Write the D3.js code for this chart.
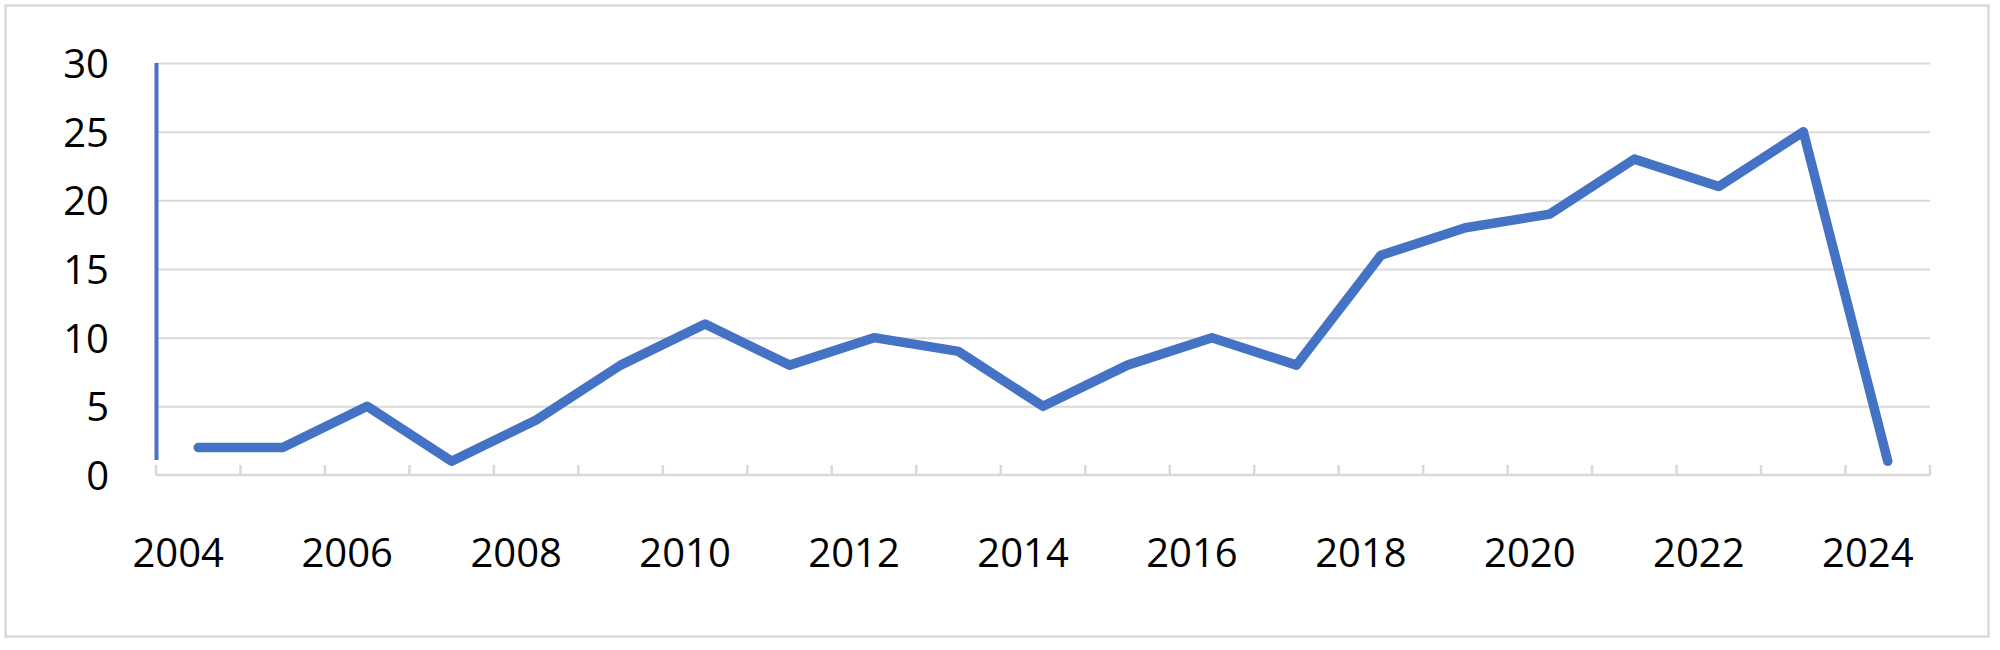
<!DOCTYPE html>
<html>
<head>
<meta charset="utf-8">
<script src="https://cdn.jsdelivr.net/npm/d3@7"></script>
<style>
  body { margin: 0; background: #fff; }
  svg text { font-family: "Open Sans", "Liberation Sans", sans-serif; fill: #000; }
</style>
</head>
<body>
<div id="chart"></div>
<script>
var years = d3.range(2004, 2025);
var counts = [2, 2, 5, 1, 4, 8, 11, 8, 10, 9, 5, 8, 10, 8, 16, 18, 19, 23, 21, 25, 1];
var yTicks = [0, 5, 10, 15, 20, 25, 30];
var xLabels = [2004, 2006, 2008, 2010, 2012, 2014, 2016, 2018, 2020, 2022, 2024];

var width = 2000, height = 650;
var margin = { top: 63, right: 70, bottom: 175, left: 156 };
var innerW = width - margin.left - margin.right;
var innerH = height - margin.top - margin.bottom;

var svg = d3.select("#chart").append("svg")
    .attr("width", width)
    .attr("height", height);

// outer frame
svg.append("rect")
    .attr("x", 5.5)
    .attr("y", 5.5)
    .attr("width", 1983)
    .attr("height", 631)
    .attr("fill", "none")
    .attr("stroke", "#d9d9d9")
    .attr("stroke-width", 2.5);

var g = svg.append("g")
    .attr("transform", "translate(" + margin.left + "," + margin.top + ")");

var x = d3.scaleBand()
    .domain(years)
    .range([0, innerW])
    .padding(0);

var y = d3.scaleLinear()
    .domain([0, 30])
    .range([innerH, 0]);

// gridlines
var grid = g.append("g")
    .call(d3.axisRight(y).tickValues(yTicks.slice(1)).tickSize(innerW).tickFormat(""));
grid.select(".domain").remove();
grid.selectAll("line")
    .attr("stroke", "#d9d9d9")
    .attr("stroke-width", 2);

// y labels
var yAxis = g.append("g")
    .call(d3.axisLeft(y).tickValues(yTicks).tickSize(0).tickPadding(47));
yAxis.select(".domain").remove();
yAxis.selectAll("text")
    .style("font-size", "40px")
    .attr("dy", "0.36em");

// x axis line and tick marks between categories
var bounds = years.map(function(d) { return x(d); }).concat([innerW]);
g.append("line")
    .attr("x1", 0)
    .attr("x2", innerW)
    .attr("y1", innerH)
    .attr("y2", innerH)
    .attr("stroke", "#d9d9d9")
    .attr("stroke-width", 2.5);
g.selectAll(".xtick")
    .data(bounds)
  .enter().append("line")
    .attr("class", "xtick")
    .attr("x1", function(d) { return d; })
    .attr("x2", function(d) { return d; })
    .attr("y1", innerH - 10)
    .attr("y2", innerH)
    .attr("stroke", "#d9d9d9")
    .attr("stroke-width", 2.5);

// x labels
var xAxis = g.append("g")
    .attr("transform", "translate(0," + innerH + ")")
    .call(d3.axisBottom(x).tickValues(xLabels).tickSize(0));
xAxis.select(".domain").remove();
xAxis.selectAll("text")
    .style("font-size", "40px")
    .attr("x", -20)
    .attr("y", 92)
    .attr("dy", 0);

// vertical axis line (blue, gray at the foot)
g.append("line")
    .attr("x1", 0.5)
    .attr("x2", 0.5)
    .attr("y1", y(30))
    .attr("y2", innerH - 15)
    .attr("stroke", "#4a72c8")
    .attr("stroke-width", 4);

var line = d3.line()
    .x(function(d, i) { return x(years[i]) + x.bandwidth() / 2; })
    .y(function(d) { return y(d); });

g.append("path")
    .datum(counts)
    .attr("d", line)
    .attr("fill", "none")
    .attr("stroke", "#4472c4")
    .attr("stroke-width", 9.5)
    .attr("stroke-linecap", "round")
    .attr("stroke-linejoin", "round");
</script>
</body>
</html>
